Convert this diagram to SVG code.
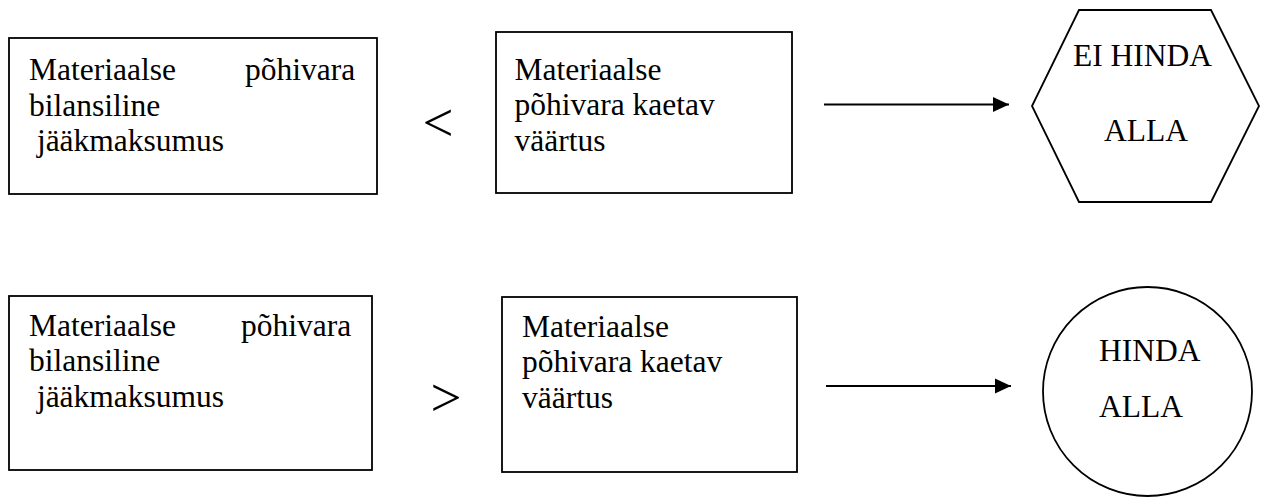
<svg xmlns="http://www.w3.org/2000/svg" width="1268" height="497" viewBox="0 0 1268 497">
  <style>
    .shape { fill: #ffffff; stroke: #000000; stroke-width: 1.8; }
    .label { font-family: "Liberation Serif", "Times New Roman", serif; font-size: 31.5px; fill: #000000; }
    .sign { font-family: "Liberation Serif", "Times New Roman", serif; font-size: 55px; fill: #000000; }
    .arrow { stroke: #000000; stroke-width: 2; fill: none; }
  </style>
  <defs>
    <marker id="arrowhead" markerUnits="userSpaceOnUse" markerWidth="18" markerHeight="16" refX="16" refY="8" orient="auto">
      <polygon points="0,0.5 16,8 0,15.5" fill="#000000"/>
    </marker>
  </defs>
  <rect width="1268" height="497" fill="#ffffff"/>

  <!-- upper row: carrying amount below recoverable amount -->
  <g id="book-value-top">
    <rect class="shape" x="9" y="38" width="368" height="156"/>
    <text class="label" x="29" y="80">Materiaalse</text>
    <text class="label" x="245" y="80">põhivara</text>
    <text class="label" x="29" y="115.5">bilansiline</text>
    <text class="label" x="29" y="151" xml:space="preserve"> jääkmaksumus</text>
  </g>

  <text id="less-than" class="sign" x="422.5" y="141">&lt;</text>

  <g id="recoverable-top">
    <rect class="shape" x="496" y="32" width="296" height="161"/>
    <text class="label" x="514.5" y="79.5">Materiaalse</text>
    <text class="label" x="514.5" y="115">põhivara kaetav</text>
    <text class="label" x="514.5" y="150.5">väärtus</text>
  </g>

  <g id="no-impairment">
    <polygon class="shape" points="1079,10 1211,10 1259,106 1211,202 1079,202 1032,106"/>
    <text class="label" x="1073" y="66">EI HINDA</text>
    <text class="label" x="1104" y="141">ALLA</text>
  </g>

  <!-- lower row: carrying amount above recoverable amount -->
  <g id="book-value-bottom">
    <rect class="shape" x="9" y="296" width="363" height="174"/>
    <text class="label" x="29" y="335.5">Materiaalse</text>
    <text class="label" x="241" y="335.5">põhivara</text>
    <text class="label" x="29" y="371">bilansiline</text>
    <text class="label" x="29" y="406.5" xml:space="preserve"> jääkmaksumus</text>
  </g>

  <text id="greater-than" class="sign" x="430.5" y="416">&gt;</text>

  <g id="recoverable-bottom">
    <rect class="shape" x="502" y="297" width="295" height="175"/>
    <text class="label" x="522" y="336.5">Materiaalse</text>
    <text class="label" x="522" y="372">põhivara kaetav</text>
    <text class="label" x="522" y="407.5">väärtus</text>
  </g>

  <g id="impairment">
    <circle class="shape" cx="1147.5" cy="391.5" r="104.5"/>
    <text class="label" x="1099" y="361">HINDA</text>
    <text class="label" x="1099" y="416.5">ALLA</text>
  </g>

  <g id="connectors">
    <line class="arrow" x1="824" y1="104.5" x2="1009" y2="104.5" marker-end="url(#arrowhead)"/>
    <line class="arrow" x1="826" y1="386" x2="1011" y2="386" marker-end="url(#arrowhead)"/>
  </g>
</svg>
